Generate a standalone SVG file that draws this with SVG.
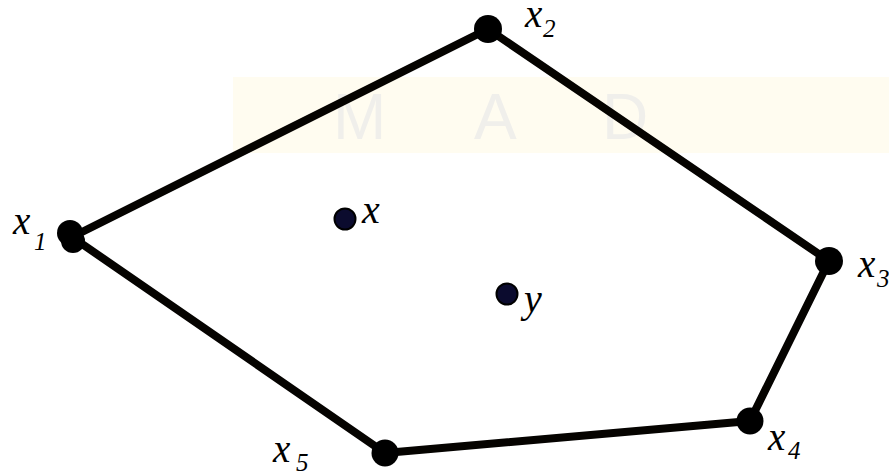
<svg xmlns="http://www.w3.org/2000/svg" width="889" height="473" viewBox="0 0 889 473">
<style>
.wm2{font-family:"Liberation Sans",Arial,sans-serif;fill:#f0efeb}
.edge{stroke:#050300;stroke-width:8;stroke-linecap:round;fill:none}
.v{fill:#000}
.p{fill:#0b0b2e;stroke:#000;stroke-width:2}
.lb{font-family:'Liberation Serif',serif;font-style:italic;font-size:39px;fill:#000}
.sb{font-family:'Liberation Serif',serif;font-style:italic;font-size:25px;fill:#000}
.lbi{font-family:'Liberation Serif',serif;font-style:italic;font-size:40px;fill:#000}
</style>
<rect width="889" height="473" fill="#fff"/>
<g id="watermark">
<rect x="233" y="77" width="656" height="76" fill="#fffcf0"/>
<text class="wm2" x="333" y="139" font-size="64">M</text>
<text class="wm2" x="474" y="139" font-size="64">A</text>
<text class="wm2" x="602" y="139" font-size="64">D</text>
</g>
<g id="connectors">
<line class="edge" x1="72" y1="237" x2="488" y2="29"/>
<line class="edge" x1="488" y1="29" x2="829" y2="261"/>
<line class="edge" x1="829" y1="261" x2="750" y2="421"/>
<line class="edge" x1="750" y1="421" x2="385" y2="453"/>
<line class="edge" x1="385" y1="453" x2="72" y2="237"/>
</g>
<g id="x1"><circle class="v" cx="70" cy="233" r="13"/><circle class="v" cx="73" cy="241" r="12"/><text class="lb" x="13" y="234">x</text><text class="sb" x="34" y="250">1</text></g>
<g id="x2"><circle class="v" cx="488" cy="29" r="14"/><text class="lb" x="525" y="27">x</text><text class="sb" x="543" y="37">2</text></g>
<g id="x3"><circle class="v" cx="829" cy="261" r="14"/><text class="lb" x="858" y="277">x</text><text class="sb" x="877" y="287">3</text></g>
<g id="x4"><circle class="v" cx="750" cy="421" r="13.5"/><text class="lb" x="768" y="450">x</text><text class="sb" x="788" y="459">4</text></g>
<g id="x5"><circle class="v" cx="385" cy="453" r="13.5"/><text class="lb" x="273" y="462">x</text><text class="sb" x="296" y="471">5</text></g>
<g id="x"><circle class="p" cx="345" cy="219" r="10.5"/><text class="lbi" x="362" y="223">x</text></g>
<g id="y"><circle class="p" cx="507" cy="294" r="10.5"/><text class="lbi" x="524" y="312">y</text></g>
</svg>
